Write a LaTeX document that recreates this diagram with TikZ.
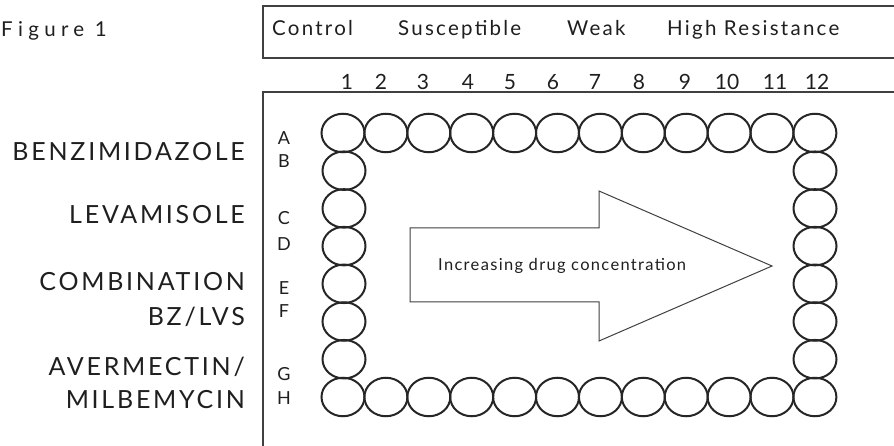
\documentclass[tikz,border=0pt]{standalone}
\usepackage{fontspec}
\setmainfont{Lato}
\newfontfamily\drugfont[LetterSpace=11]{Lato}
\newfontfamily\catfont[LetterSpace=11]{Lato}
\newfontfamily\figfont[LetterSpace=26]{Lato}
\newfontfamily\incfont[LetterSpace=8]{Lato}
\usetikzlibrary{shapes.geometric}
\begin{document}
\begin{tikzpicture}[x=1pt,y=-1pt,
  well/.style={draw=black!85,line width=2pt,ellipse,minimum width=43pt,minimum height=38.5pt,inner sep=0pt},
  frame/.style={draw=black!75,line width=1.3pt},
  drug/.style={anchor=east,font=\drugfont\fontsize{25}{27}\selectfont,text=black!88,inner sep=0pt},
  rowlbl/.style={font=\fontsize{18}{20}\selectfont,text=black!88,inner sep=0pt},
  collbl/.style={anchor=base,font=\fontsize{21}{23}\selectfont,text=black!88,inner sep=0pt},
  cat/.style={anchor=base west,font=\catfont\fontsize{20.5}{22}\selectfont,text=black!88,inner sep=0pt}]
\useasboundingbox[fill=white] (0,0) rectangle (894,446);
% frames
\draw[frame] (900,6) -- (263,6) -- (263,58) -- (900,58);
\draw[frame] (900,92) -- (263,92) -- (263,450);
% title
\node[anchor=base west,font=\figfont\fontsize{20.5}{22}\selectfont,text=black!88,inner sep=0pt] (fig) at (1,37) {Figure 1};
% categories
\node[cat] (ctl) at (272,36) {Control};
\node[cat] (sus) at (398,36) {Susceptible};
\node[cat] (weak) at (567,36) {Weak};
\node[cat] (hr) at (667,36) {High Resistance};
% column numbers
\foreach \n/\x in {1/347,2/381,3/423,4/468,5/510,6/553,7/595,8/639,9/685,10/727,11/775,12/817}
  \node[collbl] (c\n) at (\x,90) {\n};
% row letters
\foreach \l/\y in {A/138,B/161,C/218,D/244,E/288,F/311,G/374,H/398}
  \node[rowlbl] (r\l) at (284,\y) {\l};
% drug labels
\node[drug] (bz) at (245,152) {BENZIMIDAZOLE};
\node[drug] (lev) at (245,215) {LEVAMISOLE};
\node[drug] (comb) at (245,282) {COMBINATION};
\node[drug] (bzl) at (245,317) {BZ/LVS};
\node[drug] (av) at (245,367) {AVERMECTIN/};
\node[drug] (mil) at (245,400) {MILBEMYCIN};
% wells
\foreach \i in {1,...,12}{
  \node[well] (t\i) at ({343+(\i-1)*42.9},133) {};
  \node[well] (b\i) at ({343+(\i-1)*42.9},397) {};
}
\foreach \j in {2,...,7}{
  \node[well] (l\j) at (344,{133+(\j-1)*37.7}) {};
  \node[well] (rr\j) at (815,{133+(\j-1)*37.7}) {};
}
% arrow
\draw[draw=black!75,line width=1pt] (410,228) -- (599,228) -- (599,191) -- (772,266) -- (599,341) -- (599,302) -- (410,302) -- cycle;
\node[anchor=west,font=\incfont\fontsize{16.5}{18}\selectfont,text=black!88,inner sep=0pt] (inc) at (438,266) {Increasing drug concentration};
\end{tikzpicture}
\end{document}
